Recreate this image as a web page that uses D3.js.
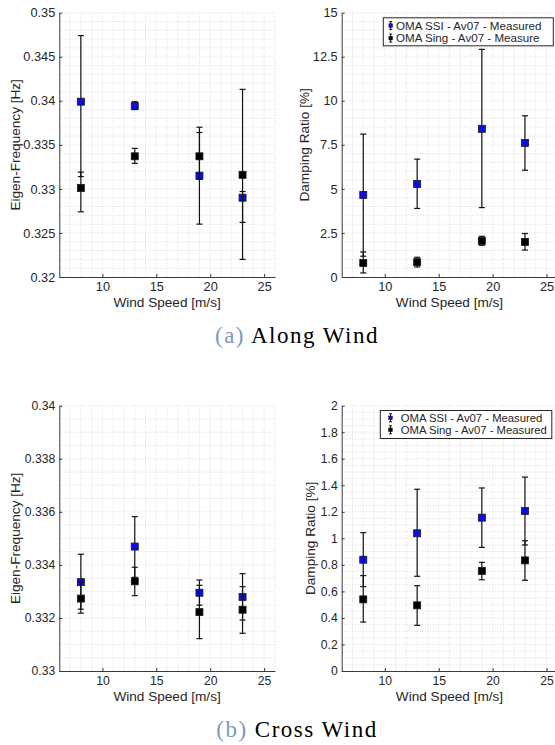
<!DOCTYPE html>
<html>

<head>
    <meta charset="UTF-8">
    <style>
        body { margin: 0; background: #fff; }
        text { font-family: "Liberation Sans", Arial, sans-serif; fill: #262626; }
    </style>
</head>

<body>
    <div id="chart"></div>

    <script src="https://d3js.org/d3.v7.min.js"></script>
    <script>

        // Wind speeds of the four measurement groups
        const windSpeed = [8, 13, 19, 23];

        // (a) Along wind - eigen-frequency [Hz]
        const alongFreqSsi = [0.3399, 0.3394, 0.3315, 0.3290];
        const alongFreqSsiLow = [0.3314, 0.3390, 0.3260, 0.3220];
        const alongFreqSsiHigh = [0.3474, 0.3399, 0.3364, 0.3297];
        const alongFreqSing = [0.3301, 0.3337, 0.3337, 0.3316];
        const alongFreqSingLow = [0.3274, 0.3329, 0.3311, 0.3262];
        const alongFreqSingHigh = [0.3319, 0.3346, 0.3370, 0.3413];

        // (a) Along wind - damping ratio [%]
        const alongDampSsi = [4.66, 5.28, 8.41, 7.61];
        const alongDampSsiLow = [1.18, 3.89, 3.94, 6.06];
        const alongDampSsiHigh = [8.11, 6.69, 12.92, 9.15];
        const alongDampSing = [0.80, 0.84, 2.05, 1.99];
        const alongDampSingLow = [0.23, 0.57, 1.80, 1.53];
        const alongDampSingHigh = [1.42, 1.12, 2.31, 2.47];

        // (b) Cross wind - eigen-frequency [Hz]
        const crossFreqSsi = [0.33335, 0.33469, 0.33295, 0.33279];
        const crossFreqSsiLow = [0.33233, 0.33353, 0.33248, 0.33192];
        const crossFreqSsiHigh = [0.33440, 0.33582, 0.33343, 0.33367];
        const crossFreqSing = [0.33273, 0.33338, 0.33222, 0.33231];
        const crossFreqSingLow = [0.33218, 0.33284, 0.33122, 0.33142];
        const crossFreqSingHigh = [0.33335, 0.33391, 0.33323, 0.33318];

        // (b) Cross wind - damping ratio [%]
        const crossDampSsi = [0.839, 1.038, 1.156, 1.206];
        const crossDampSsiLow = [0.636, 0.714, 0.932, 0.950];
        const crossDampSsiHigh = [1.043, 1.370, 1.380, 1.462];
        const crossDampSing = [0.540, 0.495, 0.754, 0.834];
        const crossDampSingLow = [0.369, 0.344, 0.688, 0.684];
        const crossDampSingHigh = [0.719, 0.643, 0.819, 0.982];

        // Axis ticks
        const xTicks = [10, 15, 20, 25];
        const alongFreqTicks = [0.32, 0.325, 0.33, 0.335, 0.34, 0.345, 0.35];
        const alongDampTicks = [0, 2.5, 5, 7.5, 10, 12.5, 15];
        const crossFreqTicks = [0.33, 0.332, 0.334, 0.336, 0.338, 0.34];
        const crossDampTicks = [0, 0.2, 0.4, 0.6, 0.8, 1, 1.2, 1.4, 1.6, 1.8, 2];

        const legendNames = ["OMA SSI - Av07 - Measured", "OMA Sing - Av07 - Measure"];
        const legendNamesCross = ["OMA SSI - Av07 - Measured", "OMA Sing - Av07 - Measured"];

        const ssiColor = "#0b0bf0";
        const singColor = "#000000";

        const svg = d3.select("#chart")
            .append("svg")
            .attr("width", 555)
            .attr("height", 745);

        function series(vals, low, high) {
            return windSpeed.map((w, i) => ({ x: w, v: vals[i], lo: low[i], hi: high[i] }));
        }

        const panels = [
            {
                left: 59.3, top: 12.7, bottom: 277, domain: [0.32, 0.35], ticks: alongFreqTicks, minor: 0.001,
                font: 12.8, label: "Eigen-Frequency [Hz]", labelX: 15,
                ssi: series(alongFreqSsi, alongFreqSsiLow, alongFreqSsiHigh),
                sing: series(alongFreqSing, alongFreqSingLow, alongFreqSingHigh)
            },
            {
                left: 341.7, top: 12.7, bottom: 277, domain: [0, 15], ticks: alongDampTicks, minor: 0.5,
                font: 12.8, label: "Damping Ratio [%]", labelX: 304.5,
                ssi: series(alongDampSsi, alongDampSsiLow, alongDampSsiHigh),
                sing: series(alongDampSing, alongDampSingLow, alongDampSingHigh),
                legend: { x: 383.3, y: 17.8, w: 170, h: 28, font: 11.6, names: legendNames, textX: 396, rows: [29.6, 42.1], iconX: 390.7 }
            },
            {
                left: 59.3, top: 405.7, bottom: 671, domain: [0.33, 0.34], ticks: crossFreqTicks, minor: 0.0005,
                font: 12.2, label: "Eigen-Frequency [Hz]", labelX: 15,
                ssi: series(crossFreqSsi, crossFreqSsiLow, crossFreqSsiHigh),
                sing: series(crossFreqSing, crossFreqSingLow, crossFreqSingHigh)
            },
            {
                left: 341.7, top: 405.7, bottom: 671, domain: [0, 2], ticks: crossDampTicks, minor: 0.05,
                font: 12.2, label: "Damping Ratio [%]", labelX: 310,
                ssi: series(crossDampSsi, crossDampSsiLow, crossDampSsiHigh),
                sing: series(crossDampSing, crossDampSingLow, crossDampSingHigh),
                legend: { x: 380.3, y: 410.5, w: 171.5, h: 28, font: 11.3, names: legendNamesCross, textX: 400.7, rows: [421.8, 433.8], iconX: 390.5 }
            }
        ];

        function drawPanel(p) {
            const g = svg.append("g");
            const x = d3.scaleLinear().domain([6, 26]).range([p.left, p.left + 215.6]);
            const y = d3.scaleLinear().domain(p.domain).range([p.bottom, p.top]);

            // minor grid
            const nMinor = Math.round((p.domain[1] - p.domain[0]) / p.minor);
            const yMinor = d3.range(0, nMinor + 1).map(i => p.domain[0] + i * p.minor);
            g.selectAll(".gx").data(d3.range(7, 27)).enter().append("line")
                .attr("x1", d => x(d)).attr("x2", d => x(d))
                .attr("y1", p.bottom).attr("y2", p.top)
                .style("stroke", "#cfcfcf").style("stroke-width", 0.7)
                .style("stroke-dasharray", "1,1.6");
            g.selectAll(".gy").data(yMinor.slice(1)).enter().append("line")
                .attr("x1", x(6)).attr("x2", x(26))
                .attr("y1", d => y(d)).attr("y2", d => y(d))
                .style("stroke", "#cfcfcf").style("stroke-width", 0.7)
                .style("stroke-dasharray", "1,1.6");

            // axes
            const fmt = d => String(+d.toFixed(4));
            g.append("g")
                .attr("transform", `translate(0, ${p.bottom})`)
                .call(d3.axisBottom(x).tickValues(xTicks).tickSizeInner(-3).tickSizeOuter(0).tickPadding(5).tickFormat(fmt))
                .call(a => a.selectAll("text").style("font-size", p.font + "px").style("fill", "#262626").attr("font-family", null))
                .call(a => a.selectAll("line, path").style("stroke", "#3a3a3a"));
            g.append("g")
                .attr("transform", `translate(${p.left}, 0)`)
                .call(d3.axisLeft(y).tickValues(p.ticks).tickSizeInner(-3).tickSizeOuter(0).tickPadding(4).tickFormat(fmt))
                .call(a => a.selectAll("text").style("font-size", p.font + "px").style("fill", "#262626").attr("font-family", null))
                .call(a => a.selectAll("line, path").style("stroke", "#3a3a3a"));
            g.selectAll(".domain").style("stroke-width", 1);

            // axis titles
            g.append("text")
                .attr("x", p.left + 107.8)
                .attr("y", p.bottom + 30)
                .attr("text-anchor", "middle")
                .style("font-size", "13.6px")
                .text("Wind Speed [m/s]");
            g.append("text")
                .attr("transform", `translate(${p.labelX}, ${(p.top + p.bottom) / 2}) rotate(-90)`)
                .attr("text-anchor", "middle")
                .attr("dominant-baseline", "central")
                .style("font-size", "13.6px")
                .text(p.label);

            // error bars and markers, SSI first then Sing
            [[p.ssi, ssiColor], [p.sing, singColor]].forEach(([data, color]) => {
                const eb = g.append("g");
                eb.selectAll(".bar").data(data).enter().append("line")
                    .attr("x1", d => x(d.x)).attr("x2", d => x(d.x))
                    .attr("y1", d => y(d.lo)).attr("y2", d => y(d.hi))
                    .style("stroke", "#111").style("stroke-width", 1.2);
                eb.selectAll(".capLo").data(data).enter().append("line")
                    .attr("x1", d => x(d.x) - 3).attr("x2", d => x(d.x) + 3)
                    .attr("y1", d => y(d.lo)).attr("y2", d => y(d.lo))
                    .style("stroke", "#111").style("stroke-width", 1.2);
                eb.selectAll(".capHi").data(data).enter().append("line")
                    .attr("x1", d => x(d.x) - 3).attr("x2", d => x(d.x) + 3)
                    .attr("y1", d => y(d.hi)).attr("y2", d => y(d.hi))
                    .style("stroke", "#111").style("stroke-width", 1.2);
                eb.selectAll(".mk").data(data).enter().append("rect")
                    .attr("x", d => x(d.x) - 3.5).attr("y", d => y(d.v) - 3.5)
                    .attr("width", 7).attr("height", 7)
                    .style("fill", color)
                    .style("stroke", "#1a1a1a").style("stroke-width", 0.8);
            });

            // legend
            if (p.legend) {
                const L = p.legend;
                const lg = g.append("g");
                lg.append("rect")
                    .attr("x", L.x).attr("y", L.y).attr("width", L.w).attr("height", L.h)
                    .style("fill", "#fff").style("stroke", "#262626").style("stroke-width", 1);
                [ssiColor, singColor].forEach((c, i) => {
                    const cy = L.rows[i] - 4;
                    lg.append("line").attr("x1", L.iconX).attr("x2", L.iconX)
                        .attr("y1", cy - 4).attr("y2", cy + 4)
                        .style("stroke", "#111").style("stroke-width", 1);
                    [cy - 4, cy + 4].forEach(yy => lg.append("line")
                        .attr("x1", L.iconX - 1.5).attr("x2", L.iconX + 1.5)
                        .attr("y1", yy).attr("y2", yy)
                        .style("stroke", "#111").style("stroke-width", 1));
                    lg.append("rect")
                        .attr("x", L.iconX - 1.8).attr("y", cy - 1.8)
                        .attr("width", 3.6).attr("height", 3.6)
                        .style("fill", c).style("stroke", "#111").style("stroke-width", 0.5);
                    lg.append("text")
                        .attr("x", L.textX).attr("y", L.rows[i])
                        .style("font-size", L.font + "px")
                        .text(L.names[i]);
                });
            }
        }

        panels.forEach(drawPanel);

        // sub-figure captions
        const captions = [["(a)", "Along Wind", 343], ["(b)", "Cross Wind", 736.5]];
        captions.forEach(([tag, name, yy]) => {
            const t = svg.append("text")
                .attr("x", 297)
                .attr("y", yy)
                .attr("text-anchor", "middle")
                .style("font-family", "'Liberation Serif', 'Times New Roman', serif")
                .style("font-size", "23px")
                .style("letter-spacing", "1.5px");
            t.append("tspan").style("fill", "#7b9bbb").text(tag);
            t.append("tspan").style("fill", "#000").text(" " + name);
        });

    </script>
</body>

</html>
